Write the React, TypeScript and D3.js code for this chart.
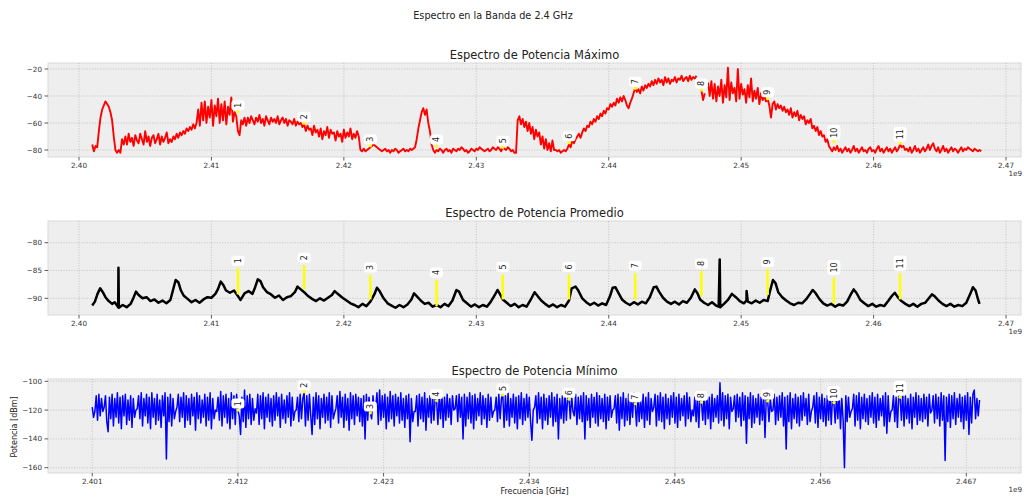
import React from 'react';
import * as d3 from 'd3';

const W = 1024;
const H = 498;
const plotLeft = 48;
const plotRight = 1021;

// canales wifi 2.4 GHz
const channelFreqs = [2.412, 2.417, 2.422, 2.427, 2.432, 2.437, 2.442, 2.447, 2.452, 2.457, 2.462];
const channelLabels = ['1', '2', '3', '4', '5', '6', '7', '8', '9', '10', '11'];

const maxMarkers = [-51.6, -60.2, -76.8, -77, -78, -74.6, -34.3, -35.6, -42, -73.8, -75];
const avgMarkerBase = [-89.3, -88.4, -90.2, -91.4, -90.2, -90.2, -90.2, -89.6, -89.4, -90.9, -90.2];
const avgMarkerTop = [-84.6, -84.05, -85.8, -86.7, -85.7, -85.7, -85.5, -85.1, -84.8, -86.25, -85.5];
const minMarkers = [-120, -107.2, -122, -113.4, -109.5, -112.4, -115.6, -114.5, -113.6, -114.8, -111];

const xTicksTop = [2.4, 2.41, 2.42, 2.43, 2.44, 2.45, 2.46, 2.47];
const xTicksBottom = [2.401, 2.412, 2.423, 2.434, 2.445, 2.456, 2.467];
const yTicksMax = [-80, -60, -40, -20];
const yTicksAvg = [-90, -85, -80];
const yTicksMin = [-160, -140, -120, -100];

// espectro maximo, paso 0.125 MHz desde 2.401 GHz
const maxStart = 2.401;
const maxStep = 0.000125;
const maxPower: (number | null)[] = [
  -76, -81, -77, -78, -66, -56, -50, -47, -44, -46, -48, -52, -58, -70, -80, -82, -80, -82, -72, -76,
  -70, -76, -68, -74, -71, -77, -69, -73, -75, -68, -72, -76, -66, -74,
  -70, -77, -71, -69, -75, -72, -68, -76, -70, -74, -71, -67, -75, -72,
  -74, -70, -72, -68, -71, -67, -69, -66, -68, -64, -66, -63, -65, -61, -64, -60,
  -50, -62, -45, -58, -44, -60, -48, -56, -43, -62, -47, -55, -42, -60, -46, -58, -44, -61, -48, -54, -41, -59,
  -52, -55, -66, -69, -58, -61, -56, -62,
  -56, -60, -55, -58, -61, -56, -59, -54, -60, -57, -62, -55, -58, -61, -56, -59,
  -57, -60, -55, -61, -58, -56, -60, -57, -62, -58, -59, -61, -57, -62, -59, -61,
  -60, -63, -61, -66, -62, -65, -64, -69, -62, -67, -65, -70, -64, -72, -66, -69, -63, -71,
  -65, -68, -67, -73, -66, -70, -68, -74, -65, -71, -67, -70, -64, -72, -68, -71, -66, -70,
  -80, -81, -79, -81, -80, -79, -78, -77, -76, -77, -78, -79, -80, -81, -80, -79, -81,
  -80, -82, -80, -81, -79, -80, -82, -81, -80, -79, -81, -80, -81, -79, -80, -79, -78,
  -72, -64, -58, -52, -49, -54, -50, -60, -66, -76, -80, -82,
  -80, -81, -79, -80, -82, -80, -79, -81, -80, -82, -79, -80, -81, -79, -80, -78, -79, -81, -80, -82, -81, -79, -80, -81,
  -79, -80, -78, -79, -80, -81, -80, -79, -81, -80, -78, -79, -80, -78, -79, -81, -78, -79, -80, -78, -79, -81, -80, -82,
  -82, -58, -55, -61, -57, -63, -59, -66, -60, -68, -63, -72, -65, -70, -67, -76, -70, -79,
  -72, -80, -75, -81, -73, -80, -80, -81, -80, -82, -81, -80, -81, -79, -76, -78, -73, -75,
  -72, -70, -68, -71, -67, -64, -66, -62, -63, -59, -61, -57, -59, -55, -57, -53, -55, -51, -53, -49, -50, -46, -48,
  -45, -47, -42, -45, -41, -44, -40, -43, -47, -49, -45, -42, -38, -34, -37, -35, -38, -33, -36, -32, -34, -31, -33,
  -29, -32, -28, -31, -27, -30, -28, -32, -26, -30, -27, -31, -28, -29, -26, -30, -27, -28, -25, -29, -27, -26, -29, -25, -28, -26, -27, -25,
  null, null, -36, -43, -38, null, -30, -40,
  -29, -42, -31, -44, -33, -40, -28, -45, -32, -41, -19, -43, -30, -38, -34, -44,
  -20, -42, -31, -39, -35, -45, -32, -41, -27, -44, -36, -42, -34, -46, -38, -43,
  -40, -44, -42, -47, -56, -46, -44, -50, -46, -49, -47, -51,
  -48, -52, -50, -54, -49, -56, -52, -55, -51, -58, -54, -57, -55, -61, -58, -60, -57, -64, -62, -66, -63, -69, -66, -70, -69, -74, -72, -77,
  -79, -81,
  -78, -80, -77, -81, -79, -82, -80, -78, -81, -79, -82, -80, -77, -81, -79, -82, -80, -78,
  -81, -80, -82, -79, -78, -81, -80, -82, -79, -77, -81, -79, -82, -80, -78, -81, -79, -82,
  -80, -78, -81, -79, -76, -78, -77, -80, -79, -81, -78, -82, -80, -77, -81, -79, -82, -80,
  -78, -81, -79, -76, -80, -77, -75, -79, -81, -78, -82, -80, -77, -81, -79, -82, -80, -78,
  -81, -79, -80, -82, -80, -78, -81, -79, -80, -78, -79, -80, -81, -79, -80, -81, -80, -81,
];

// espectro promedio [GHz, dBm]
const avgPower: [number, number][] = [
  [2.401, -91.3], [2.4012, -90.6], [2.4014, -89.2], [2.4016, -88.2], [2.4018, -88.9], [2.402, -89.8],
  [2.4022, -90.4], [2.4025, -91.0], [2.4027, -90.7], [2.4029, -91.4], [2.40296, -91.6], [2.40298, -84.5],
  [2.40301, -91.7], [2.4033, -91.2], [2.4036, -91.6], [2.4039, -91.0], [2.4041, -90.0], [2.4043, -88.8],
  [2.4045, -89.4], [2.4048, -90.0], [2.4051, -89.8], [2.4054, -90.5], [2.4057, -90.2], [2.406, -90.8],
  [2.4063, -90.4], [2.4066, -90.9], [2.4069, -90.3], [2.4071, -88.5], [2.4073, -86.7], [2.4075, -87.1],
  [2.4077, -88.6], [2.4079, -89.5], [2.4082, -90.1], [2.4085, -90.7], [2.4088, -90.3], [2.4091, -90.8],
  [2.4094, -90.2], [2.4097, -89.8], [2.41, -89.9], [2.4103, -89.2], [2.4105, -88.3], [2.4107, -87.0],
  [2.4109, -87.6], [2.4111, -88.6], [2.4114, -89.0], [2.4117, -88.6], [2.412, -89.6], [2.4122, -90.3],
  [2.4125, -89.1], [2.4128, -88.7], [2.4131, -89.2], [2.4133, -88.0], [2.4135, -86.6], [2.4137, -86.9],
  [2.4139, -88.0], [2.4142, -88.9], [2.4145, -89.3], [2.4148, -89.9], [2.4151, -89.5], [2.4154, -90.3],
  [2.4157, -89.8], [2.416, -89.6], [2.4163, -88.9], [2.4165, -87.9], [2.4167, -88.3], [2.417, -88.9],
  [2.4173, -89.6], [2.4176, -90.1], [2.4179, -90.5], [2.4182, -90.0], [2.4185, -90.4], [2.4188, -89.9],
  [2.4191, -89.4], [2.4193, -88.7], [2.4196, -89.3], [2.4199, -89.9], [2.4202, -90.4], [2.4205, -90.9],
  [2.4208, -91.2], [2.4211, -91.6], [2.4214, -91.0], [2.4217, -91.4], [2.422, -90.6], [2.4223, -89.3],
  [2.4225, -88.1], [2.4227, -88.7], [2.423, -90.0], [2.4233, -90.9], [2.4236, -91.3], [2.4239, -91.7],
  [2.4242, -91.2], [2.4245, -91.6], [2.4248, -91.1], [2.4251, -90.2], [2.4253, -89.1], [2.4255, -89.6],
  [2.4258, -90.4], [2.4261, -91.0], [2.4264, -90.8], [2.4267, -91.5], [2.427, -91.2], [2.4273, -91.6],
  [2.4276, -91.0], [2.4279, -91.4], [2.4282, -90.4], [2.4285, -88.5], [2.4287, -88.8], [2.429, -90.3],
  [2.4293, -90.9], [2.4296, -91.5], [2.4299, -91.1], [2.4302, -91.6], [2.4305, -91.2], [2.4308, -91.5],
  [2.4311, -90.6], [2.4314, -89.4], [2.4316, -88.5], [2.4318, -89.3], [2.432, -90.2], [2.4323, -90.8],
  [2.4326, -91.4], [2.4329, -91.0], [2.4332, -91.6], [2.4335, -91.2], [2.4338, -91.5], [2.4341, -90.3],
  [2.4344, -88.9], [2.4346, -89.5], [2.4349, -90.4], [2.4352, -91.0], [2.4355, -91.5], [2.4358, -91.1],
  [2.4361, -91.6], [2.4364, -91.2], [2.4367, -91.5], [2.437, -90.4], [2.4372, -88.2], [2.4375, -87.9],
  [2.4377, -88.6], [2.438, -90.0], [2.4383, -90.7], [2.4386, -91.2], [2.4389, -90.8], [2.4392, -91.3],
  [2.4395, -90.9], [2.4398, -91.2], [2.4401, -89.6], [2.4403, -88.1], [2.4405, -88.0], [2.4407, -88.9],
  [2.441, -90.2], [2.4413, -90.8], [2.4416, -91.2], [2.4419, -90.7], [2.4422, -91.1], [2.4425, -90.6],
  [2.4428, -90.9], [2.4431, -89.8], [2.4434, -88.0], [2.4436, -87.9], [2.4438, -88.8], [2.4441, -89.9],
  [2.4444, -90.6], [2.4447, -91.0], [2.445, -90.6], [2.4453, -91.1], [2.4456, -90.5], [2.4459, -90.8],
  [2.4462, -89.9], [2.4465, -88.4], [2.4467, -89.1], [2.4469, -90.2], [2.4472, -90.8], [2.4475, -91.2],
  [2.4478, -90.7], [2.4481, -91.3], [2.4483, -91.5], [2.44838, -83.0], [2.44842, -91.6], [2.4487, -91.0],
  [2.449, -90.3], [2.4493, -89.2], [2.4496, -89.8], [2.4499, -90.5], [2.4502, -90.9], [2.4504, -90.4],
  [2.45041, -88.7], [2.4505, -90.6], [2.4508, -90.9], [2.4511, -90.4], [2.4514, -90.8], [2.4517, -90.3],
  [2.452, -90.5], [2.4522, -88.5], [2.4524, -86.7], [2.4526, -87.3], [2.4528, -88.9], [2.4531, -89.8],
  [2.4534, -90.4], [2.4537, -90.9], [2.454, -91.2], [2.4543, -90.8], [2.4546, -90.9], [2.4549, -90.2],
  [2.4552, -89.2], [2.4554, -88.5], [2.4556, -89.0], [2.4559, -90.1], [2.4562, -90.9], [2.4565, -91.3],
  [2.4568, -91.0], [2.4571, -91.5], [2.4574, -91.1], [2.4577, -91.3], [2.458, -90.6], [2.4583, -89.2],
  [2.4585, -88.4], [2.4587, -89.0], [2.459, -90.3], [2.4593, -90.9], [2.4596, -91.4], [2.4599, -91.0],
  [2.4602, -91.5], [2.4605, -91.2], [2.4608, -91.4], [2.4611, -90.5], [2.4614, -89.5], [2.4616, -89.0],
  [2.4618, -89.7], [2.4621, -90.5], [2.4624, -91.0], [2.4627, -91.4], [2.463, -91.0], [2.4633, -91.5],
  [2.4636, -91.0], [2.4639, -90.8], [2.4642, -89.9], [2.4644, -89.3], [2.4646, -89.6], [2.4649, -90.4],
  [2.4652, -91.0], [2.4655, -91.4], [2.4658, -91.0], [2.4661, -91.5], [2.4664, -91.2], [2.4667, -91.4],
  [2.467, -90.8], [2.4673, -89.2], [2.4675, -88.0], [2.4677, -88.6], [2.4679, -90.3], [2.468, -91.0],
];

// espectro minimo, paso 0.1 MHz desde 2.401 GHz (bloques de 3 MHz)
const minStart = 2.401;
const minStep = 0.0001;
const minPower: number[] = [
  -118, -125, -121, -110, -127, -109, -124, -112, -121, -118, -110, -128, -135, -111, -126, -109, -131,
  -112, -125, -108, -129, -111, -133, -110, -124, -109, -130, -113, -127, -110, -132, -112, -125, -120,
  -119, -110, -126, -108, -131, -112, -124, -109, -129, -111, -133, -108, -125, -112, -130, -109, -127, -113, -132, -110, -124, -108, -154, -111, -128, -109, -131, -112, -126, -121,
  -118, -109, -128, -111, -125, -108, -132, -110, -127, -112, -130, -109, -124, -111, -134, -108, -126, -110, -129, -113, -125, -109, -131, -111, -127, -108, -133, -112, -126, -120,
  -121, -111, -127, -107, -131, -110, -125, -109, -129, -112, -133, -108, -126, -110, -130, -109, -120, -124, -137, -111, -128, -106, -132, -110, -126, -109, -130, -112, -127, -119,
  -122, -109, -130, -110, -126, -108, -133, -111, -125, -109, -128, -112, -131, -110, -127, -108, -124, -111, -132, -109, -126, -113, -129, -110, -125, -108, -131, -111, -127, -121,
  -120, -111, -128, -109, -126, -112, -108, -131, -110, -127, -109, -124, -137, -111, -130, -108, -126, -110, -133, -112, -125, -109, -129, -111, -127, -108, -132, -110, -126, -122,
  -119, -110, -129, -107, -125, -111, -132, -109, -127, -112, -134, -108, -126, -110, -130, -109, -124, -111, -128, -112, -131, -110, -140, -109, -127, -111, -122, -126, -110, -120,
  -118, -108, -130, -106, -127, -110, -125, -109, -133, -111, -128, -107, -126, -110, -131, -109, -124, -111, -129, -108, -127, -112, -132, -110, -126, -109, -142, -112, -128, -121,
  -121, -110, -131, -109, -126, -111, -128, -108, -134, -112, -125, -110, -129, -109, -127, -111, -113, -130, -110, -126, -108, -132, -111, -127, -109, -125, -112, -130, -110, -120,
  -119, -110, -128, -109, -125, -111, -140, -109, -131, -111, -126, -108, -129, -110, -133, -109, -127, -112, -124, -108, -130, -110, -126, -112, -132, -109, -127, -111, -125, -121,
  -120, -111, -128, -109, -126, -112, -109, -132, -110, -127, -108, -131, -112, -125, -109, -129, -111, -133, -110, -126, -108, -130, -112, -127, -109, -125, -111, -128, -141, -120,
  -118, -110, -129, -108, -126, -111, -133, -109, -127, -112, -130, -110, -125, -108, -131, -111, -128, -109, -140, -112, -126, -110, -129, -108, -127, -111, -112, -126, -110, -121,
  -124, -109, -130, -111, -126, -110, -128, -108, -140, -110, -127, -112, -132, -109, -125, -111, -129, -108, -131, -110, -126, -112, -128, -109, -133, -111, -127, -110, -125, -120,
  -119, -110, -129, -109, -134, -111, -126, -108, -131, -112, -127, -109, -130, -111, -125, -108, -116, -131, -110, -128, -112, -126, -109, -132, -111, -127, -108, -130, -112, -121,
  -118, -109, -131, -110, -127, -108, -128, -111, -133, -109, -126, -112, -130, -110, -125, -108, -129, -111, -132, -109, -127, -112, -124, -110, -131, -108, -126, -111, -128, -120,
  -124, -111, -128, -110, -132, -109, -114, -127, -110, -130, -108, -126, -111, -133, -109, -128, -112, -125, -110, -129, -101, -127, -108, -131, -110, -126, -109, -133, -111, -121,
  -119, -110, -128, -109, -125, -111, -131, -108, -127, -110, -143, -111, -126, -108, -132, -110, -129, -112, -125, -109, -130, -111, -127, -108, -139, -110, -113, -128, -112, -121,
  -120, -109, -130, -111, -127, -110, -125, -108, -131, -111, -147, -110, -128, -108, -133, -112, -126, -109, -129, -111, -131, -110, -127, -108, -124, -112, -130, -109, -128, -121,
  -118, -110, -129, -108, -132, -111, -126, -109, -128, -112, -131, -110, -127, -108, -130, -111, -115, -129, -110, -126, -108, -133, -112, -127, -160, -110, -128, -111, -125, -121,
  -119, -109, -131, -110, -127, -108, -133, -111, -126, -109, -128, -112, -130, -110, -125, -108, -129, -111, -132, -109, -127, -112, -124, -110, -131, -108, -136, -110, -128, -121,
  -120, -110, -128, -111, -132, -109, -111, -127, -108, -131, -110, -126, -112, -129, -109, -133, -111, -125, -108, -130, -110, -127, -112, -128, -109, -126, -111, -131, -109, -122,
  -120, -110, -129, -109, -126, -111, -131, -108, -127, -110, -155, -111, -128, -109, -132, -110, -126, -108, -130,
  -112, -125, -109, -128, -111, -133, -110, -127, -108, -137, -111, -129, -109, -106, -126, -112, -124, -113,
];

const font = 'DejaVu Sans, sans-serif';
const textColor = '#333';

const x = d3.scaleLinear().domain([2.39766, 2.47113]).range([plotLeft, plotRight]);

interface PanelProps {
  top: number;
  bottom: number;
  yDomain: [number, number];
  yTicks: number[];
  xTicks: number[];
  xFmt: (v: number) => string;
  title: string;
  id: string;
  children: (y: d3.ScaleLinear<number, number>) => React.ReactNode;
}

const fmtMinus = (v: number) => d3.format('d')(v).replace('-', '\u2212');

const Panel: React.FC<PanelProps> = ({ top, bottom, yDomain, yTicks, xTicks, xFmt, title, id, children }) => {
  const y = d3.scaleLinear().domain(yDomain).range([bottom, top]);
  return (
    <g>
      <defs>
        <clipPath id={id}>
          <rect x={plotLeft} y={top} width={plotRight - plotLeft} height={bottom - top} />
        </clipPath>
      </defs>
      <rect x={plotLeft} y={top} width={plotRight - plotLeft} height={bottom - top} fill="#eeeeee" stroke="#d9d9d9" strokeWidth={1} />
      {xTicks.map((t) => (
        <line key={'gx' + t} x1={x(t)} x2={x(t)} y1={top} y2={bottom} stroke="#b2b2b2" strokeWidth={0.7} strokeDasharray="1,1.6" />
      ))}
      {yTicks.map((t) => (
        <line key={'gy' + t} x1={plotLeft} x2={plotRight} y1={y(t)} y2={y(t)} stroke="#b2b2b2" strokeWidth={0.7} strokeDasharray="1,1.6" />
      ))}
      <g clipPath={`url(#${id})`}>{children(y)}</g>
      {xTicks.map((t) => (
        <g key={'tx' + t}>
          <line x1={x(t)} x2={x(t)} y1={bottom} y2={bottom + 3.5} stroke={textColor} strokeWidth={0.8} />
          <text x={x(t)} y={bottom + 11} fontSize={7.2} fontFamily={font} fill={textColor} textAnchor="middle">
            {xFmt(t)}
          </text>
        </g>
      ))}
      {yTicks.map((t) => (
        <g key={'ty' + t}>
          <line x1={plotLeft - 3.5} x2={plotLeft} y1={y(t)} y2={y(t)} stroke={textColor} strokeWidth={0.8} />
          <text x={plotLeft - 6} y={y(t)} dy="0.35em" fontSize={7.2} fontFamily={font} fill={textColor} textAnchor="end">
            {fmtMinus(t)}
          </text>
        </g>
      ))}
      <text x={(plotLeft + plotRight) / 2} y={top - 4.5} fontSize={11.5} fontFamily={font} fill="#222" textAnchor="middle">
        {title}
      </text>
      <text x={plotRight + 1} y={bottom + 19} fontSize={7.2} fontFamily={font} fill={textColor} textAnchor="end">
        1e9
      </text>
    </g>
  );
};

const LabelBox: React.FC<{ cx: number; bottomY: number; label: string }> = ({ cx, bottomY, label }) => {
  const w = 13;
  const h = 5 + 5 * label.length;
  return (
    <g>
      <rect x={cx - w / 2} y={bottomY - h} width={w} height={h} rx={3} fill="white" />
      <text
        transform={`translate(${cx},${bottomY - h / 2}) rotate(-90)`}
        fontSize={8}
        fontFamily={font}
        fill="#222"
        textAnchor="middle"
        dy="0.35em"
      >
        {label}
      </text>
    </g>
  );
};

export default function App() {
  const maxData: [number, number | null][] = maxPower.map((v, i) => [maxStart + i * maxStep, v]);
  const minData: [number, number][] = minPower.map((v, i) => [minStart + i * minStep, v]);

  return (
    <svg width={W} height={H} style={{ position: 'absolute', left: 0, top: 0, background: 'white' }}>
      <text x={493} y={19} fontSize={9.7} fontFamily={font} fill="#222" textAnchor="middle">
        Espectro en la Banda de 2.4 GHz
      </text>

      <Panel top={63} bottom={157} yDomain={[-85.19, -15.56]} yTicks={yTicksMax} xTicks={xTicksTop}
        xFmt={d3.format('.2f')} title="Espectro de Potencia  Máximo" id="c1">
        {(y) => {
          const line = d3
            .line<[number, number | null]>()
            .defined((d) => d[1] !== null)
            .x((d) => x(d[0]))
            .y((d) => y(d[1] as number));
          return (
            <g>
              <path d={line(maxData) || ''} fill="none" stroke="#ff0000" strokeWidth={1.9} strokeLinejoin="round" />
              {channelFreqs.map((f, i) => (
                <g key={'m' + i}>
                  <circle cx={x(f)} cy={y(maxMarkers[i])} r={1.6} fill="#ffff00" />
                  <LabelBox cx={x(f)} bottomY={y(maxMarkers[i]) - 1.5} label={channelLabels[i]} />
                </g>
              ))}
            </g>
          );
        }}
      </Panel>

      <Panel top={221} bottom={315} yDomain={[-93.0, -76.1]} yTicks={yTicksAvg} xTicks={xTicksTop}
        xFmt={d3.format('.2f')} title="Espectro de Potencia Promedio" id="c2">
        {(y) => {
          const line = d3
            .line<[number, number]>()
            .x((d) => x(d[0]))
            .y((d) => y(d[1]));
          return (
            <g>
              <path d={line(avgPower) || ''} fill="none" stroke="#000" strokeWidth={2.5} strokeLinejoin="round" />
              {channelFreqs.map((f, i) => (
                <g key={'a' + i}>
                  <line x1={x(f)} x2={x(f)} y1={y(avgMarkerBase[i])} y2={y(avgMarkerTop[i])} stroke="#ffff00" strokeWidth={2.5} />
                  <LabelBox cx={x(f)} bottomY={y(avgMarkerTop[i]) - 2.5} label={channelLabels[i]} />
                </g>
              ))}
            </g>
          );
        }}
      </Panel>

      <Panel top={379} bottom={473} yDomain={[-163.7, -98.4]} yTicks={yTicksMin} xTicks={xTicksBottom}
        xFmt={d3.format('.3f')} title="Espectro de Potencia Mínimo" id="c3">
        {(y) => {
          const line = d3
            .line<[number, number]>()
            .x((d) => x(d[0]))
            .y((d) => y(d[1]));
          return (
            <g>
              <path d={line(minData) || ''} fill="none" stroke="#0000ff" strokeWidth={1.5} strokeLinejoin="round" />
              {channelFreqs.map((f, i) => (
                <g key={'n' + i}>
                  <circle cx={x(f)} cy={y(minMarkers[i])} r={1.6} fill="#ffff00" />
                  <LabelBox cx={x(f)} bottomY={y(minMarkers[i]) - 1.5} label={channelLabels[i]} />
                </g>
              ))}
            </g>
          );
        }}
      </Panel>

      <text x={(plotLeft + plotRight) / 2} y={494} fontSize={8} fontFamily={font} fill="#222" textAnchor="middle">
        Frecuencia [GHz]
      </text>
      <text transform="translate(17,427) rotate(-90)" fontSize={8} fontFamily={font} fill="#222" textAnchor="middle">
        Potencia [dBm]
      </text>
    </svg>
  );
}
